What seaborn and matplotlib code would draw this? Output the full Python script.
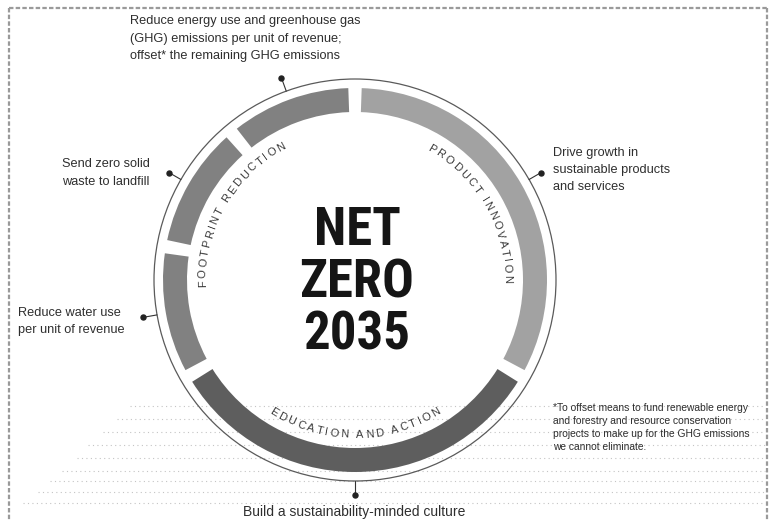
import matplotlib
matplotlib.use("Agg")
import matplotlib.pyplot as plt
import seaborn as sns
import numpy as np
from matplotlib import font_manager

# ---------------- data ----------------
segment_labels = ["Energy & GHG", "Zero waste", "Water", "Education and action", "Product innovation"]
segment_spans = [36, 36, 36, 116, 116]          # angular size of each ring segment (deg)
gap_span = 4                                     # gap between segments (deg)
segment_start = 92                               # start angle of first segment (deg)
segment_shades = ["#818181", "#818181", "#818181", "#5e5e5e", "#a2a2a2"]

pillar_names = ["FOOTPRINT REDUCTION", "PRODUCT INNOVATION", "EDUCATION AND ACTION"]
pillar_angles = [150, 30, 270]
pillar_inward = [False, False, True]

goal_angles = [110, 150, 190, 270, 30]
goal_texts = [
    ["Reduce energy use and greenhouse gas", "(GHG) emissions per unit of revenue;", "offset* the remaining GHG emissions"],
    ["Send zero solid", "waste to landfill"],
    ["Reduce water use", "per unit of revenue"],
    ["Build a sustainability-minded culture"],
    ["Drive growth in", "sustainable products", "and services"],
]
center_lines = ["NET", "ZERO", "2035"]
footnote_lines = [
    "*To offset means to fund renewable energy",
    "and forestry and resource conservation",
    "projects to make up for the GHG emissions",
    "we cannot eliminate.",
]
bg_line_y = [406, 419, 432, 445, 458, 471, 481, 492, 503]
bg_line_x0 = [130, 117, 103, 88, 77, 62, 50, 38, 23]

# ---------------- style ----------------
sns.set_theme(style="white")
plt.rcParams["font.family"] = ["Liberation Sans", "DejaVu Sans"]

W, H = 776, 521
fig = plt.figure(figsize=(W / 100, H / 100), dpi=100)
ax = fig.add_axes([0, 0, 1, 1])

def Y(y):
    return H - y

cx, cy = 355, Y(280)
R_out, band_w, R_thin = 192, 24, 201
txt_col = "#2e2e2e"

# ring via pie
vals, cols = [], []
for s, c in zip(segment_spans, segment_shades):
    vals += [s, gap_span]
    cols += [c, (1, 1, 1, 0)]
ax.pie(vals, colors=cols, startangle=segment_start, counterclock=True,
       radius=R_out, center=(cx, cy), frame=True,
       wedgeprops=dict(width=band_w, linewidth=0, edgecolor="none"))

ax.add_patch(plt.Circle((cx, cy), R_thin, fill=False, ec="#5a5a5a", lw=0.9, zorder=3))

# leader lines and dots
for a in goal_angles:
    t = np.radians(a)
    x1, y1 = cx + R_thin * np.cos(t), cy + R_thin * np.sin(t)
    x2, y2 = cx + 215 * np.cos(t), cy + 215 * np.sin(t)
    ax.plot([x1, x2], [y1, y2], color="#333333", lw=0.8, zorder=4)
    ax.plot([x2], [y2], marker="o", ms=3.6, color="#222222", zorder=5)

# goal labels (layout positions)
label_pos = [(130, [24, 42, 59], "left", 9.2),
             (62, [167, 185], "left", 9.2),
             (18, [316, 333], "left", 9.2),
             (354, [516], "center", 10.0),
             (553, [156, 173, 190], "left", 9.2)]
for lines, (x, ys, ha, fs) in zip(goal_texts, label_pos):
    for line, y in zip(lines, ys):
        ax.text(x, Y(y), line, ha=ha, va="baseline", fontsize=fs, color=txt_col, zorder=6)

for line, y in zip(footnote_lines, [411, 424, 437, 450]):
    ax.text(553, Y(y), line, ha="left", va="baseline", fontsize=7.4, color=txt_col, zorder=6)

# center title
names = {f.name for f in font_manager.fontManager.ttflist}
cond_family = next((n for n in ["Liberation Sans Narrow", "Roboto Condensed", "Open Sans Condensed"] if n in names), "Liberation Sans")
for line, y in zip(center_lines, [245, 298, 350]):
    ax.text(357, Y(y), line, ha="center", va="baseline", fontsize=38, fontweight="bold",
            family=cond_family, stretch="condensed", color="#151515", zorder=6)

# curved pillar names
renderer = fig.canvas.get_renderer()
def adv(ch, prop):
    w = lambda s: renderer.get_text_width_height_descent(s, prop, ismath=False)[0]
    return w("H" + ch + "H") - w("HH")

def curved(text, center_deg, radius, fs, track, inward):
    prop = font_manager.FontProperties(family="Liberation Sans", size=fs)
    advs = [adv(c, prop) for c in text]
    total = sum(advs) + track * (len(text) - 1)
    pos = 0.0
    for i, ch in enumerate(text):
        mid = pos + advs[i] / 2 - total / 2
        pos += advs[i] + track
        if ch == " ":
            continue
        if inward:
            ang = center_deg + np.degrees(mid / radius)
            rot = ang + 90
        else:
            ang = center_deg - np.degrees(mid / radius)
            rot = ang - 90
        t = np.radians(ang)
        ax.text(cx + radius * np.cos(t), cy + radius * np.sin(t), ch, rotation=rot,
                rotation_mode="anchor", ha="center", va="center",
                fontproperties=prop, color="#3a3a3a", zorder=6)

for name, a, inw in zip(pillar_names, pillar_angles, pillar_inward):
    curved(name, a, 155 if inw else 152, 8.0, 2.2, inw)

# background dotted lines and frame
for y, x0 in zip(bg_line_y, bg_line_x0):
    ax.plot([x0, 765], [Y(y), Y(y)], color="#c4c4c4", lw=0.8, ls=(0, (1, 3)), zorder=0)
frame_kw = dict(color="#9a9a9a", lw=1.6, ls=(0, (2, 1)), zorder=1)
ax.plot([9, 767], [Y(8), Y(8)], **frame_kw)
ax.plot([9, 9], [Y(8), 0], **frame_kw)
ax.plot([767, 767], [Y(8), 0], **frame_kw)

ax.set_xlim(0, W)
ax.set_ylim(0, H)
ax.set_aspect("equal")
ax.axis("off")
fig.savefig("out.png", dpi=100, facecolor="white")
